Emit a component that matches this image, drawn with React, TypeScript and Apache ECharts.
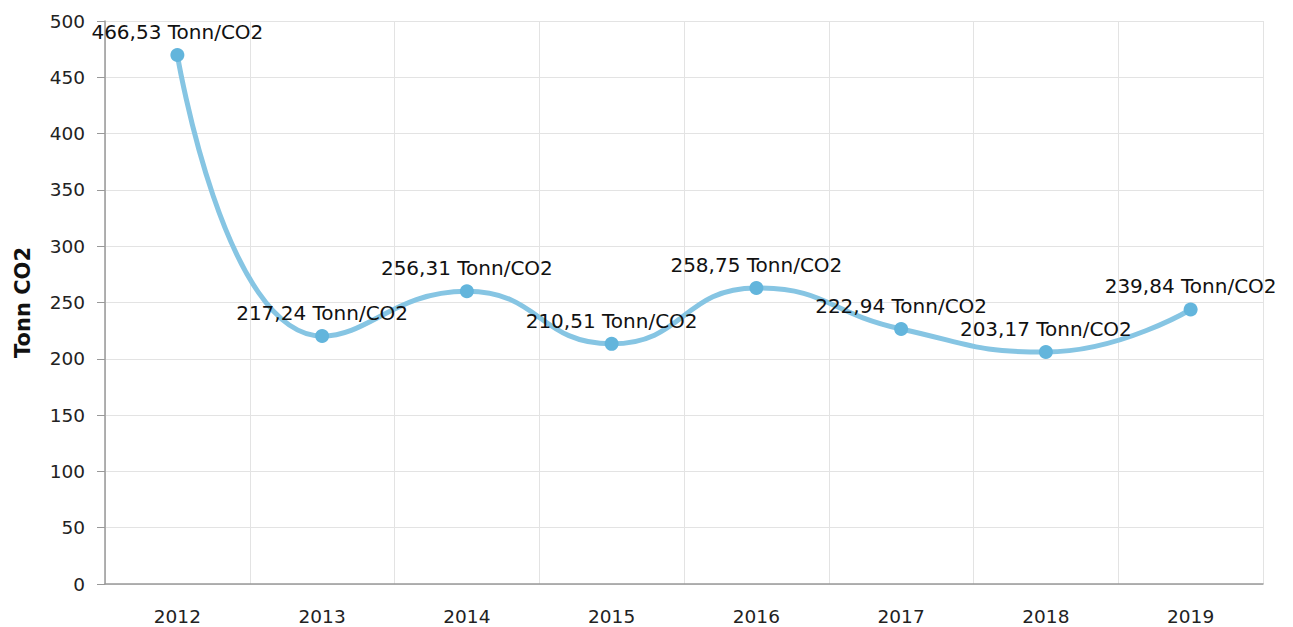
import React, { useEffect, useRef } from "react";
import * as echarts from "echarts";

const years = ["2012", "2013", "2014", "2015", "2016", "2017", "2018", "2019"];
const values = [469.8, 220.2, 260.0, 213.3, 262.9, 226.5, 206.0, 243.8];
const labels = [
  "466,53 Tonn/CO2",
  "217,24 Tonn/CO2",
  "256,31 Tonn/CO2",
  "210,51 Tonn/CO2",
  "258,75 Tonn/CO2",
  "222,94 Tonn/CO2",
  "203,17 Tonn/CO2",
  "239,84 Tonn/CO2",
];

const FONT = "DejaVu Sans, Verdana, sans-serif";

export default function App() {
  const ref = useRef<HTMLDivElement>(null);
  useEffect(() => {
    document.body.style.margin = "0";
    document.body.style.overflow = "hidden";
    if (!ref.current) return;
    const chart = echarts.init(ref.current, null, { renderer: "svg" });
    chart.setOption({
      animation: false,
      textStyle: { fontFamily: FONT },
      grid: { left: 105, right: 30, top: 21, bottom: 43, containLabel: false, outerBoundsMode: "none" },
      xAxis: {
        type: "category",
        data: years,
        boundaryGap: true,
        axisLine: { lineStyle: { color: "#999", width: 1.5 } },
        axisTick: { alignWithLabel: true, length: 8, lineStyle: { color: "#999" } },
        axisLabel: { color: "#222", fontSize: 18.5, fontFamily: FONT, margin: 23 },
        splitLine: { show: true, lineStyle: { color: "#e3e3e3", width: 1 } },
      },
      yAxis: {
        type: "value",
        min: 0,
        max: 500,
        interval: 50,
        name: "Tonn CO2",
        nameLocation: "middle",
        nameGap: 72,
        nameTextStyle: { fontSize: 21, fontWeight: "bold", color: "#111", fontFamily: FONT },
        axisLine: { show: true, lineStyle: { color: "#999", width: 1.5 } },
        axisTick: { show: true, length: 8, lineStyle: { color: "#999" } },
        axisLabel: { color: "#222", fontSize: 18.5, fontFamily: FONT, margin: 20 },
        splitLine: { show: true, lineStyle: { color: "#e3e3e3", width: 1 } },
      },
      series: [
        {
          type: "line",
          data: values,
          smooth: 0.5,
          symbol: "circle",
          symbolSize: 14,
          lineStyle: { color: "#86c5e3", width: 5 },
          itemStyle: { color: "#63b5dc" },
          label: {
            show: true,
            position: "top",
            distance: 6,
            fontSize: 20,
            color: "#111",
            fontFamily: FONT,
            formatter: (p: any) => labels[p.dataIndex],
          },
        },
      ],
    });
    return () => chart.dispose();
  }, []);
  return <div ref={ref} style={{ width: 1293, height: 627 }} />;
}
